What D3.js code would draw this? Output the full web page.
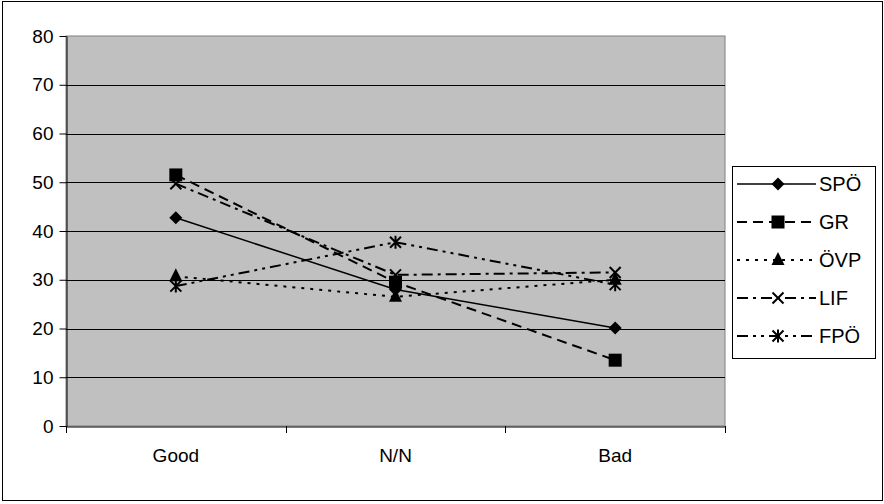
<!DOCTYPE html>
<html><head><meta charset="utf-8">
<script src="https://cdn.jsdelivr.net/npm/d3@7"></script>
<style>html,body{margin:0;padding:0;background:#fff;}svg{display:block;font-family:"Liberation Sans",Arial,sans-serif;}</style>
</head><body><svg id="c" width="884" height="504"></svg>
<script>
const categories = ["Good", "N/N", "Bad"];
const seriesNames = ["SPÖ", "GR", "ÖVP", "LIF", "FPÖ"];
const spo = [42.7, 28.0, 20.1];
const gr  = [51.5, 29.5, 13.5];
const ovp = [30.7, 26.5, 30.0];
const lif = [49.7, 31.0, 31.5];
const fpo = [28.7, 37.7, 29.0];
const yTicks = [0, 10, 20, 30, 40, 50, 60, 70, 80];

const seriesValues = [spo, gr, ovp, lif, fpo];
const styles = [
  {dash: null, w: 1.5, marker: "diamond"},
  {dash: "10,6", w: 2, marker: "square"},
  {dash: "3,6", w: 2, marker: "triangle"},
  {dash: "11,5,3,5", w: 2, marker: "x"},
  {dash: "11,5,3,5,3,5", w: 2, marker: "star"}
];
const FONT = "'Liberation Sans', Arial, sans-serif";

const svg = d3.select("#c");
const L = 66, R = 725, T = 36, B = 426;

svg.append("rect").attr("x", 2.5).attr("y", 1.5).attr("width", 880).attr("height", 499)
  .attr("fill", "#fff").attr("stroke", "#000").attr("stroke-width", 1);

const x = d3.scaleBand().domain(categories).range([L, R]);
const y = d3.scaleLinear().domain([0, 80]).range([B, T]);

svg.append("rect").attr("x", L).attr("y", T).attr("width", R - L).attr("height", B - T)
  .attr("fill", "#c0c0c0").attr("stroke", "#808080").attr("stroke-width", 1);

svg.append("g").selectAll("line").data(yTicks.filter(d => d > 0 && d < 80)).join("line")
  .attr("x1", L).attr("x2", R).attr("y1", d => Math.round(y(d)) + 0.5).attr("y2", d => Math.round(y(d)) + 0.5)
  .attr("stroke", "#000").attr("stroke-width", 1);

const yAxis = svg.append("g").attr("transform", `translate(${L + 0.5},0)`)
  .call(d3.axisLeft(y).tickValues(yTicks).tickSize(7).tickPadding(6).tickSizeOuter(0));
yAxis.select(".domain").attr("stroke", "#000");
yAxis.selectAll("text").attr("font-size", 19).attr("fill", "#000").attr("font-family", FONT);

const xAxis = svg.append("g").attr("transform", `translate(0,${B + 0.5})`)
  .call(d3.axisBottom(x).tickSize(0).tickPadding(22));
xAxis.select(".domain").attr("stroke", "#000");
xAxis.selectAll("text").attr("font-size", 19).attr("fill", "#000").attr("font-family", FONT);
const xTickPos = [L, ...categories.map(c => x(c) + x.bandwidth())];
svg.append("g").selectAll("line").data(xTickPos).join("line")
  .attr("x1", d => Math.round(d) + 0.5).attr("x2", d => Math.round(d) + 0.5)
  .attr("y1", B).attr("y2", B + 7).attr("stroke", "#000");

function drawMarker(g, type, cx, cy) {
  if (type === "diamond") {
    g.append("path").attr("d", `M${cx},${cy-6.5}L${cx+6.5},${cy}L${cx},${cy+6.5}L${cx-6.5},${cy}Z`).attr("fill", "#000");
  } else if (type === "square") {
    g.append("rect").attr("x", cx - 6.5).attr("y", cy - 6.5).attr("width", 13).attr("height", 13).attr("fill", "#000");
  } else if (type === "triangle") {
    g.append("path").attr("d", `M${cx},${cy-8}L${cx+6.5},${cy+5}L${cx-6.5},${cy+5}Z`).attr("fill", "#000");
  } else if (type === "x") {
    g.append("path").attr("d", `M${cx-5.5},${cy-5.5}L${cx+5.5},${cy+5.5}M${cx+5.5},${cy-5.5}L${cx-5.5},${cy+5.5}`).attr("stroke", "#000").attr("stroke-width", 2);
  } else if (type === "star") {
    g.append("path").attr("d", `M${cx-5.5},${cy-5.5}L${cx+5.5},${cy+5.5}M${cx+5.5},${cy-5.5}L${cx-5.5},${cy+5.5}M${cx},${cy-6.5}L${cx},${cy+6.5}`).attr("stroke", "#000").attr("stroke-width", 2);
  }
}

const line = d3.line().x((d, i) => x(categories[i]) + x.bandwidth() / 2).y(d => y(d));
seriesValues.forEach((vals, si) => {
  const st = styles[si];
  const g = svg.append("g");
  g.append("path").attr("d", line(vals)).attr("fill", "none").attr("stroke", "#000")
    .attr("stroke-width", st.w).attr("stroke-dasharray", st.dash);
  vals.forEach((v, i) => drawMarker(g, st.marker, x(categories[i]) + x.bandwidth() / 2, y(v)));
});

// legend
const lg = svg.append("g");
lg.append("rect").attr("x", 732.5).attr("y", 166.5).attr("width", 143).attr("height", 192)
  .attr("fill", "#fff").attr("stroke", "#000");
seriesNames.forEach((n, i) => {
  const ly = 184 + i * 38;
  const st = styles[i];
  lg.append("line").attr("x1", 737).attr("x2", 816).attr("y1", ly).attr("y2", ly)
    .attr("stroke", "#000").attr("stroke-width", st.w).attr("stroke-dasharray", st.dash);
  drawMarker(lg, st.marker, 778, ly);
  lg.append("text").attr("x", 819).attr("y", ly + 7).attr("font-size", 20).attr("font-family", FONT).text(n);
});
</script></body></html>
